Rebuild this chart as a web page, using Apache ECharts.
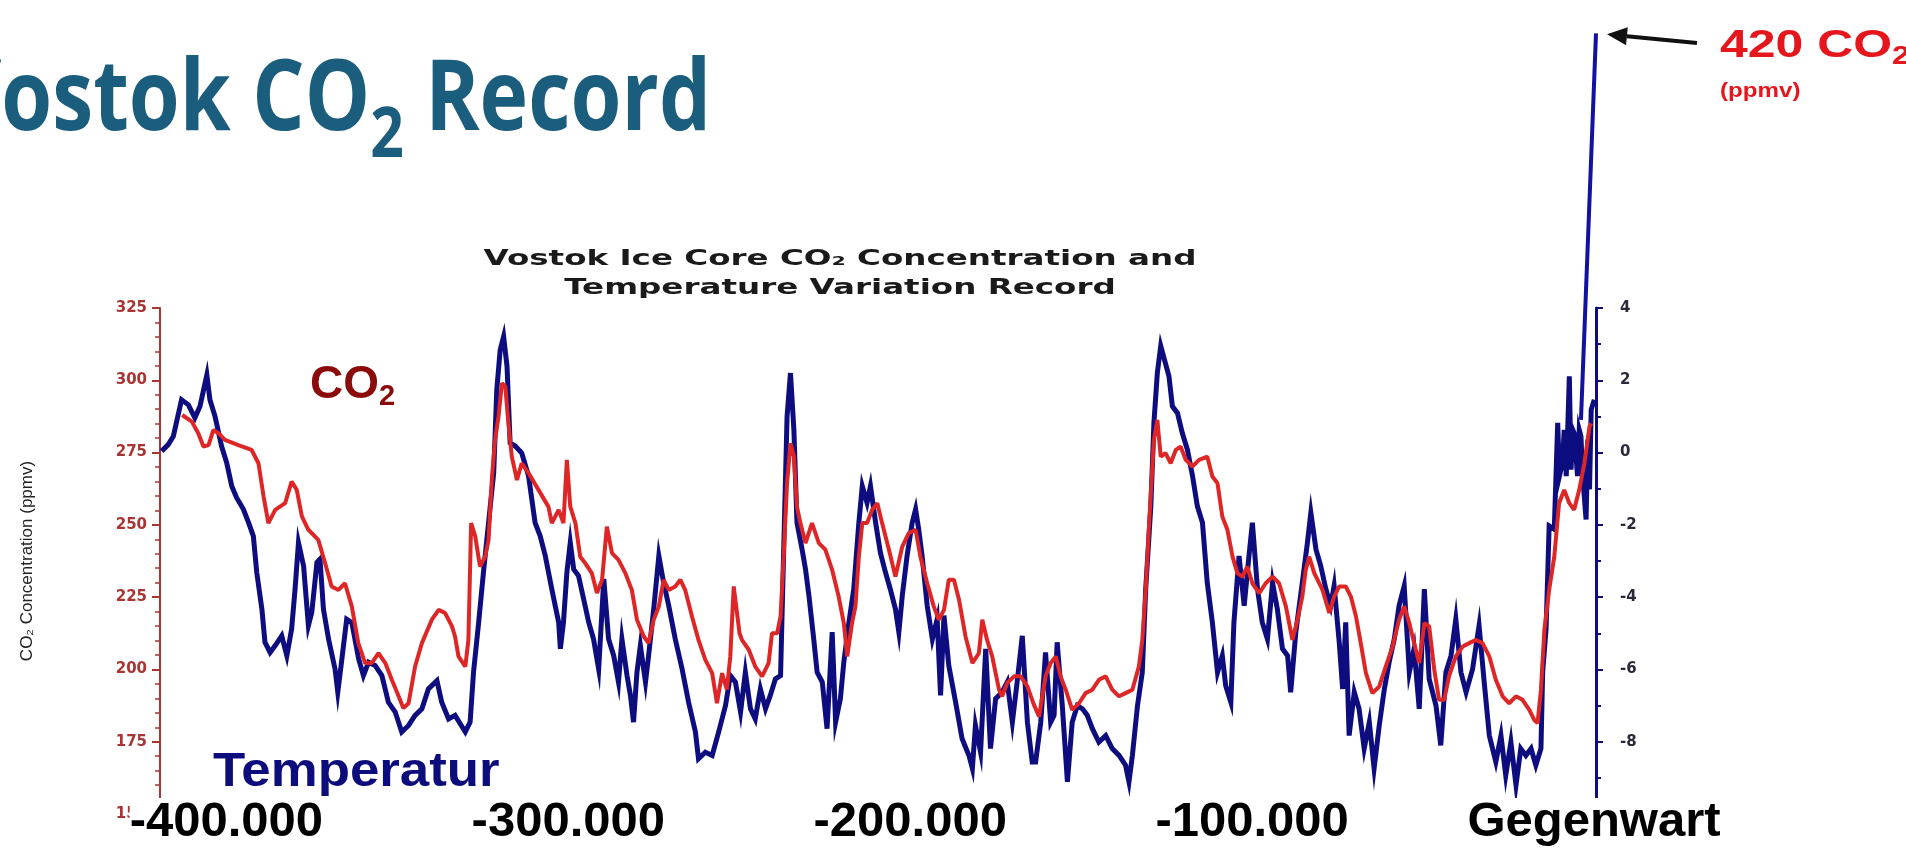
<!DOCTYPE html>
<html>
<head>
<meta charset="utf-8">
<script src="https://cdn.jsdelivr.net/npm/echarts@6/dist/echarts.min.js"></script>
<style>
  html, body { margin: 0; padding: 0; background: #ffffff; }
  #chart { width: 1906px; height: 862px; }
</style>
</head>
<body>
<div id="chart"></div>
<script>
// Vostok ice core record. Age in thousands of years (negative = before present).
// Temperature variation in °C (right axis)
const tempData = [
  [-419.5,0.04],[-417.6,0.22],[-416.1,0.45],[-413.7,1.46],[-411.7,1.32],[-409.8,0.96],[-408.3,1.28],[-406.3,2.15],
  [-405.4,1.46],[-403.9,1.00],[-402.0,0.18],[-400.5,-0.28],[-399.0,-0.93],[-397.6,-1.25],[-395.6,-1.57],[-394.1,-1.94],
  [-392.7,-2.31],[-391.7,-3.32],[-390.2,-4.33],[-389.3,-5.25],[-387.8,-5.53],[-386.3,-5.34],[-384.4,-5.07],[-382.9,-5.62],
  [-381.5,-4.88],[-380.5,-3.78],[-379.5,-2.49],[-378.0,-3.14],[-376.6,-4.79],[-375.6,-4.42],[-374.1,-3.04],[-373.2,-2.95],
  [-372.2,-4.33],[-370.7,-5.16],[-368.8,-5.99],[-368.0,-6.63],[-366.8,-5.71],[-365.4,-4.61],[-363.9,-4.70],[-361.9,-5.71],
  [-360.5,-6.17],[-359.0,-5.80],[-357.1,-5.89],[-355.1,-6.17],[-353.2,-6.91],[-351.2,-7.18],[-349.3,-7.73],[-347.3,-7.55],
  [-345.4,-7.27],[-343.4,-7.09],[-341.5,-6.54],[-339.0,-6.31],[-337.6,-6.91],[-335.6,-7.37],[-333.7,-7.27],
  [-330.7,-7.73],[-329.3,-7.46],[-328.3,-6.08],[-326.8,-4.70],[-325.4,-3.32],[-323.9,-1.94],[-322.4,-0.56],[-321.5,1.74],
  [-320.5,2.84],[-319.5,3.21],[-318.5,2.38],[-317.6,0.27],[-316.1,0.18],[-314.2,-0.01],[-312.2,-0.65],[-310.3,-1.94],
  [-308.8,-2.31],[-307.3,-2.86],[-305.4,-3.78],[-303.4,-4.70],[-302.9,-5.43],[-302.0,-4.70],[-301.0,-3.32],[-300.0,-2.49],
  [-299.0,-3.23],[-297.6,-3.41],[-296.1,-4.05],[-294.6,-4.70],[-293.2,-5.16],[-291.7,-5.99],[-290.2,-3.50],[-288.8,-5.16],
  [-287.3,-5.62],[-285.9,-6.35],[-284.9,-5.16],[-283.4,-6.17],[-282.4,-6.72],[-281.5,-7.46],[-280.5,-6.08],[-279.5,-5.34],
  [-278.0,-6.35],[-277.1,-5.62],[-275.6,-4.33],[-274.1,-2.86],[-272.7,-3.60],[-271.2,-4.24],[-269.3,-5.16],[-267.3,-5.99],
  [-265.4,-6.91],[-263.4,-7.73],[-262.5,-8.47],[-260.5,-8.29],[-258.5,-8.38],[-256.6,-7.73],[-254.6,-7.00],[-253.2,-6.17],
  [-251.7,-6.35],[-250.2,-7.18],[-248.8,-6.08],[-247.3,-7.09],[-245.9,-7.37],[-244.4,-6.54],[-242.9,-7.09],[-241.5,-6.72],
  [-240.0,-6.26],[-238.5,-6.17],[-237.6,-2.77],[-236.6,1.00],[-235.6,2.20],[-234.6,0.63],[-233.7,-1.94],[-232.2,-2.68],
  [-231.2,-3.23],[-230.2,-3.96],[-228.8,-5.16],[-227.8,-6.08],[-226.3,-6.35],[-224.9,-7.64],[-223.4,-4.97],[-222.4,-7.46],
  [-221.0,-6.81],[-220.0,-5.80],[-218.5,-4.70],[-217.1,-3.78],[-215.6,-1.94],[-214.6,-0.93],[-213.2,-1.39],[-212.2,-0.93],
  [-210.7,-1.94],[-209.3,-2.77],[-207.8,-3.32],[-206.4,-3.78],[-204.9,-4.33],[-203.9,-4.97],[-202.9,-3.96],[-201.5,-2.86],
  [-200.0,-1.94],[-199.0,-1.57],[-198.1,-2.12],[-197.1,-2.86],[-195.6,-4.24],[-194.1,-5.16],[-192.7,-4.61],[-191.7,-6.72],
  [-190.7,-4.51],[-189.3,-5.89],[-187.3,-6.91],[-185.4,-7.92],[-183.4,-8.38],[-182.4,-8.74],[-181.5,-7.55],[-180.0,-8.29],
  [-178.5,-5.43],[-177.1,-8.19],[-175.6,-6.81],[-173.7,-6.63],[-172.2,-6.35],[-170.7,-7.46],[-169.3,-6.35],[-167.8,-5.07],
  [-166.3,-7.46],[-164.9,-8.56],[-163.9,-8.56],[-162.4,-7.46],[-161.0,-5.53],[-159.5,-7.46],[-158.5,-7.27],[-157.6,-5.25],
  [-156.1,-7.00],[-154.6,-9.11],[-153.2,-7.46],[-151.7,-7.00],[-150.2,-7.09],[-148.8,-7.27],[-147.3,-7.64],[-145.4,-8.01],
  [-143.4,-7.83],[-141.5,-8.19],[-139.5,-8.38],[-137.6,-8.65],[-136.6,-9.11],[-135.6,-8.38],[-134.1,-7.00],[-132.7,-6.08],
  [-131.7,-3.78],[-130.2,-1.48],[-129.3,0.82],[-128.3,2.20],[-127.3,2.95],[-126.3,2.60],[-124.9,2.11],[-123.9,1.28],
  [-122.4,1.09],[-121.0,0.54],[-119.5,0.08],[-118.0,-0.65],[-116.6,-1.48],[-115.1,-1.94],[-113.7,-3.60],[-112.2,-4.70],
  [-110.7,-6.08],[-109.3,-5.62],[-108.3,-6.45],[-106.8,-6.91],[-105.9,-4.70],[-104.4,-2.86],[-102.9,-4.24],[-101.5,-2.86],
  [-100.5,-1.94],[-99.0,-3.78],[-97.6,-4.70],[-96.1,-5.16],[-94.6,-3.60],[-93.2,-4.33],[-91.7,-5.43],[-90.2,-5.62],
  [-89.3,-6.63],[-87.8,-4.97],[-85.9,-3.60],[-84.4,-2.49],[-83.4,-1.66],[-81.9,-2.68],[-80.5,-3.14],[-79.0,-3.78],
  [-77.6,-4.24],[-76.6,-3.69],[-75.1,-5.25],[-74.1,-6.54],[-73.2,-4.70],[-72.2,-7.83],[-70.7,-6.63],[-69.3,-7.09],
  [-67.8,-8.19],[-66.3,-7.46],[-64.9,-8.74],[-63.4,-7.55],[-61.9,-6.54],[-60.5,-5.80],[-59.0,-5.16],[-57.6,-4.24],
  [-56.1,-3.69],[-54.6,-6.08],[-53.2,-5.43],[-51.7,-7.09],[-50.2,-3.78],[-48.8,-6.26],[-46.8,-7.00],[-45.4,-8.10],
  [-43.9,-6.08],[-42.4,-5.62],[-41.0,-4.61],[-39.5,-6.08],[-38.0,-6.63],[-36.1,-5.99],[-34.2,-4.79],[-32.7,-6.35],
  [-31.2,-7.83],[-29.3,-8.56],[-27.8,-7.83],[-26.4,-8.93],[-24.9,-8.01],[-23.4,-9.20],[-22.0,-8.19],[-20.5,-8.38],
  [-19.0,-8.19],[-17.6,-8.65],[-16.1,-8.19],[-15.6,-6.08],[-14.6,-4.88],[-13.7,-2.03],[-12.2,-2.12],[-11.2,0.82],
  [-10.7,-0.65],[-9.8,-0.28],[-9.3,0.63],[-8.7,-0.65],[-7.8,2.11],[-7.3,-0.47],[-6.8,0.63],[-6.4,0.54],
  [-5.4,-0.65],[-4.9,0.63],[-4.4,0.45],[-3.9,-0.65],[-2.9,-1.85],[-2.4,0.36],[-1.9,-1.02],[-1.4,1.19],[-0.5,1.46]
];

// CO2 concentration in ppmv (left axis)
const co2Data = [
  [-413.5,288.0],[-410.7,285.7],[-408.8,281.7],[-407.3,277.1],[-405.8,277.6],[-404.4,282.8],[-402.9,281.7],[-401.0,279.4],
  [-397.1,277.6],[-393.2,275.9],[-391.2,271.3],[-389.7,259.8],[-388.3,250.6],[-386.3,255.2],[-383.4,257.5],[-381.5,265.0],
  [-380.0,262.1],[-378.5,252.9],[-376.6,248.3],[-373.7,244.8],[-371.7,236.7],[-369.8,228.7],[-367.8,227.5],[-365.9,229.8],
  [-363.9,221.8],[-362.0,209.1],[-360.0,202.2],[-358.1,202.2],[-356.1,205.6],[-354.1,202.2],[-352.2,196.4],[-350.2,190.7],
  [-348.8,186.6],[-347.3,188.3],[-345.4,201.0],[-343.4,209.1],[-340.5,217.2],[-338.5,220.6],[-336.6,219.5],[-334.6,214.9],
  [-333.7,211.4],[-332.7,204.5],[-330.7,201.0],[-329.8,210.2],[-329.0,250.6],[-327.8,246.0],[-326.4,235.6],[-324.9,239.0],
  [-323.9,244.8],[-322.9,266.7],[-322.0,279.4],[-321.0,287.4],[-320.0,299.0],[-319.0,297.8],[-318.1,285.1],[-317.1,273.6],
  [-315.6,265.5],[-314.2,271.3],[-312.2,267.9],[-309.3,262.1],[-306.4,256.3],[-305.4,250.6],[-303.4,255.2],[-302.0,250.6],
  [-301.0,272.5],[-300.0,256.3],[-298.5,250.6],[-297.1,239.0],[-295.6,236.7],[-293.7,233.3],[-292.2,226.4],[-290.7,231.0],
  [-289.3,249.4],[-287.8,240.2],[-285.9,237.9],[-283.9,233.3],[-282.0,227.5],[-280.5,217.2],[-278.5,211.4],[-277.1,209.1],
  [-275.6,217.2],[-274.1,221.8],[-272.7,231.0],[-271.2,227.5],[-269.3,228.7],[-267.8,231.0],[-266.4,227.5],[-264.4,218.3],
  [-262.5,210.2],[-260.5,203.3],[-258.5,198.7],[-257.1,188.3],[-255.6,198.7],[-254.2,193.0],[-253.2,204.5],[-252.2,228.7],
  [-250.5,212.5],[-249.8,210.2],[-247.8,206.8],[-245.9,201.0],[-243.9,197.6],[-242.0,202.2],[-241.0,212.5],[-239.5,212.5],
  [-238.5,218.3],[-237.6,239.0],[-236.6,264.4],[-235.6,278.2],[-234.6,273.6],[-233.7,256.3],[-232.7,250.6],[-231.2,243.7],
  [-229.3,250.6],[-227.3,243.7],[-225.4,241.4],[-223.4,234.4],[-221.5,225.2],[-220.0,216.0],[-219.0,204.5],[-217.6,216.0],
  [-216.6,221.8],[-215.6,239.0],[-214.6,250.6],[-213.2,250.6],[-211.7,255.2],[-210.2,257.5],[-208.8,250.6],[-206.8,241.4],
  [-204.9,232.1],[-202.9,242.5],[-201.0,247.1],[-199.0,248.3],[-197.6,239.0],[-195.6,229.8],[-193.7,221.8],[-192.2,217.2],
  [-190.7,220.6],[-189.3,231.0],[-187.8,231.0],[-186.3,224.1],[-184.4,211.4],[-182.4,202.2],[-180.5,205.6],[-179.5,217.2],
  [-178.1,210.2],[-176.6,204.5],[-174.6,193.0],[-173.7,190.7],[-172.2,195.3],[-170.2,197.6],[-168.3,197.6],[-166.3,194.1],
  [-164.5,188.1],[-162.9,183.7],[-161.0,197.6],[-159.5,202.2],[-158.0,204.5],[-156.6,197.6],[-155.1,193.0],[-153.2,186.0],
  [-151.2,188.3],[-149.3,191.8],[-147.3,193.0],[-145.4,196.4],[-143.4,197.6],[-141.5,193.0],[-139.5,190.7],[-137.6,191.8],
  [-135.6,193.0],[-133.7,201.0],[-132.7,210.2],[-131.7,227.5],[-130.7,250.6],[-129.3,279.4],[-128.3,286.3],[-127.3,273.6],
  [-125.9,274.8],[-124.4,271.3],[-122.9,275.9],[-121.5,277.1],[-120.0,272.5],[-118.0,270.2],[-116.1,272.5],[-113.7,273.6],
  [-112.2,266.7],[-110.7,264.4],[-109.3,252.9],[-107.8,248.3],[-106.3,239.0],[-104.9,233.3],[-103.4,232.1],[-102.0,235.6],
  [-100.5,229.8],[-98.5,226.4],[-96.6,229.8],[-94.6,232.1],[-92.7,229.8],[-90.7,221.8],[-88.8,210.2],[-87.3,217.2],
  [-85.9,225.2],[-84.9,234.4],[-83.9,239.0],[-82.4,233.3],[-80.0,227.5],[-78.0,219.5],[-76.6,225.2],[-75.1,228.7],
  [-73.2,228.7],[-71.7,225.2],[-70.2,218.3],[-68.8,209.1],[-67.3,198.7],[-65.4,191.8],[-63.4,194.1],[-61.5,201.0],
  [-59.5,207.9],[-57.6,217.2],[-56.1,221.8],[-54.6,216.0],[-53.2,209.1],[-51.7,202.2],[-50.2,216.0],[-48.8,214.9],
  [-47.3,199.9],[-45.9,189.5],[-44.4,189.5],[-43.0,197.6],[-41.0,204.5],[-39.0,207.9],[-37.1,209.1],[-35.1,210.2],
  [-33.2,209.1],[-31.2,204.5],[-29.3,196.4],[-27.3,190.7],[-25.4,188.3],[-23.4,190.7],[-21.5,189.5],[-19.5,186.0],
  [-18.1,182.6],[-17.1,181.4],[-16.1,193.0],[-15.1,213.7],[-13.7,227.5],[-12.2,239.0],[-10.8,257.5],[-9.3,262.1],
  [-7.8,257.5],[-6.4,255.2],[-4.9,262.1],[-3.4,271.3],[-1.9,284.0],[-1.4,285.1]
];

// Modern rise to today's CO2 level (ppmv)
const todayCo2 = 420;
const modernCo2 = [[-4.4, 286.3], [0, todayCo2]];

// Age axis labels (kyr -> text)
const ageTicks = [-400, -300, -200, -100, 0];
const ageTickText = ['-400.000', '-300.000', '-200.000', '-100.000', 'Gegenwart'];

const chart = echarts.init(document.getElementById('chart'), null, { renderer: 'canvas' });

const navy = '#0d0d80';
const co2Red = '#de2626';
const axisRed = '#a83434';

chart.setOption({
  backgroundColor: '#ffffff',
  animation: false,
  grid: { left: 160, right: 310, top: 308, bottom: 48, containLabel: false },
  xAxis: {
    type: 'value',
    min: -420, max: 0, interval: 20,
    z: 6,
    axisLine: { show: false },
    axisTick: { show: false },
    splitLine: { show: false },
    axisLabel: {
      margin: -16,
      color: '#000000',
      fontFamily: '"Liberation Sans", Arial, sans-serif',
      fontWeight: 'bold',
      fontSize: 49,
      backgroundColor: '#ffffff',
      padding: [0, 4, 0, 0],
      showMinLabel: true, showMaxLabel: true,
      formatter: function (v) {
        const i = ageTicks.indexOf(Math.round(v));
        return i >= 0 ? ageTickText[i] : '';
      }
    }
  },
  yAxis: [
    {
      type: 'value', position: 'left',
      min: 150, max: 325, interval: 25,
      z: 2,
      name: 'CO₂ Concentration (ppmv)',
      nameLocation: 'middle', nameRotate: 90, nameGap: 124,
      nameTextStyle: { color: '#222222', fontSize: 17, fontFamily: '"Liberation Sans Narrow", "Liberation Sans", sans-serif' },
      axisLine: { show: true, onZero: false, lineStyle: { color: axisRed, width: 2 } },
      axisTick: { show: true, length: 8, lineStyle: { color: axisRed, width: 2 } },
      minorTick: { show: true, splitNumber: 5, length: 5, lineStyle: { color: axisRed, width: 1.5 } },
      splitLine: { show: false },
      axisLabel: {
        margin: 13, color: axisRed,
        fontFamily: '"DejaVu Sans", sans-serif', fontWeight: 'bold', fontSize: 15
      }
    },
    {
      type: 'value', position: 'right',
      min: -10, max: 4, interval: 2,
      z: 2,
      axisLine: { show: true, onZero: false, lineStyle: { color: navy, width: 3 } },
      axisTick: { show: true, length: 7, lineStyle: { color: navy, width: 2 } },
      minorTick: { show: true, splitNumber: 2, length: 5, lineStyle: { color: navy, width: 2 } },
      splitLine: { show: false },
      axisLabel: {
        margin: 24, color: '#2a2a3a',
        fontFamily: '"DejaVu Sans", sans-serif', fontWeight: 'bold', fontSize: 15,
        formatter: function (v) { return v === -10 ? '' : String(v); }
      }
    }
  ],
  series: [
    {
      name: 'Temperatur', type: 'line', yAxisIndex: 1, data: tempData,
      showSymbol: false, symbol: 'none', clip: false, z: 2,
      lineStyle: { color: navy, width: 5, join: 'miter' }
    },
    {
      name: 'CO2', type: 'line', yAxisIndex: 0, data: co2Data,
      showSymbol: false, symbol: 'none', clip: false, z: 3,
      lineStyle: { color: co2Red, width: 4 }
    },
    {
      name: 'CO2 heute', type: 'line', yAxisIndex: 0, data: modernCo2,
      showSymbol: false, symbol: 'none', clip: false, z: 4,
      lineStyle: { color: '#1212a0', width: 4 }
    }
  ]
});

// ---- text annotations ----
const meas = document.createElement('canvas').getContext('2d');
function textW(str, font) { meas.font = font; return meas.measureText(str).width; }

// Lays out a run of text pieces on a shared baseline; returns graphic elements and the run width.
function textRun(pieces, x, baseline, sx) {
  sx = sx || 1;
  const els = [];
  let cx = x;
  pieces.forEach(function (p) {
    const font = p.weight + ' ' + p.size + 'px ' + p.family;
    els.push({
      type: 'text', x: cx, y: baseline + (p.shift || 0) - 0.3 * p.size, scaleX: sx, z: 100,
      style: {
        text: p.text, font: font, fill: p.color,
        textAlign: 'left', align: 'left', textVerticalAlign: 'middle', verticalAlign: 'middle'
      }
    });
    cx += textW(p.text, font) * sx;
  });
  return { els: els, width: cx - x };
}

const slideFont = '"Open Sans", "Noto Sans", sans-serif';
const teal = '#1b5d7c';
const headPieces = [
  { text: 'Vostok CO', size: 98, weight: 'bold', family: slideFont, color: teal },
  { text: '2', size: 70, weight: 'bold', family: slideFont, color: teal, shift: 27 },
  { text: ' Record', size: 98, weight: 'bold', family: slideFont, color: teal }
];
const headSx = 0.84;
const headProbe = textRun(headPieces, 0, 0, headSx);
const head = textRun(headPieces, 711 - headProbe.width, 131, headSx);

// chart title (two lines, wide bold face)
const ctFont = 'bold 21px "DejaVu Sans", sans-serif';
const ctLine1 = 'Vostok Ice Core CO₂ Concentration and';
const ctLine2 = 'Temperature Variation Record';
const ctSx = 713 / textW(ctLine1, ctFont);
const ctCenter = 840;
const titleEls = [
  { text: ctLine1, y: 260 },
  { text: ctLine2, y: 289 }
].map(function (l) {
  const w = textW(l.text, ctFont) * ctSx;
  return {
    type: 'text', x: ctCenter - w / 2, y: l.y, scaleX: ctSx, z: 100,
    style: { text: l.text, font: ctFont, fill: '#1a1a1a', textAlign: 'left', align: 'left', textVerticalAlign: 'middle', verticalAlign: 'middle' }
  };
});

const arial = '"Liberation Sans", Arial, sans-serif';
const co2Label = textRun([
  { text: 'CO', size: 46, weight: 'bold', family: arial, color: '#8b0a0a' },
  { text: '2', size: 29, weight: 'bold', family: arial, color: '#8b0a0a', shift: 7 }
], 310, 399);
const tempLabel = textRun([
  { text: 'Temperatur', size: 48, weight: 'bold', family: arial, color: '#0c0c7c' }
], 213, 787, 1.1);
const todayLabel = textRun([
  { text: todayCo2 + ' CO', size: 39, weight: 'bold', family: arial, color: '#e5161c' },
  { text: '2', size: 25, weight: 'bold', family: arial, color: '#e5161c', shift: 7 }
], 1720, 58, 1.28);
const unitLabel = textRun([
  { text: '(ppmv)', size: 21, weight: 'bold', family: arial, color: '#e5161c' }
], 1720, 98, 1.15);

// arrow from the "420 CO2" label to the end of the modern rise
const tip = chart.convertToPixel({ xAxisIndex: 0, yAxisIndex: 0 }, modernCo2[modernCo2.length - 1]);
const tx = tip[0] + 11, ty = tip[1] + 1;
const sx0 = 1697, sy0 = 43;
const ang = Math.atan2(ty - sy0, tx - sx0);
const hl = 20, hw = 9;
const bx = tx - hl * Math.cos(ang), by = ty - hl * Math.sin(ang);
const arrowEls = [
  { type: 'line', z: 100, shape: { x1: sx0, y1: sy0, x2: bx, y2: by }, style: { stroke: '#111111', lineWidth: 4 } },
  { type: 'polygon', z: 100, shape: { points: [
      [tx, ty],
      [bx + hw * Math.sin(ang), by - hw * Math.cos(ang)],
      [bx - hw * Math.sin(ang), by + hw * Math.cos(ang)]
    ] }, style: { fill: '#111111' } }
];

chart.setOption({
  graphic: [].concat(head.els, titleEls, co2Label.els, tempLabel.els, todayLabel.els, unitLabel.els, arrowEls)
});
</script>
</body>
</html>
